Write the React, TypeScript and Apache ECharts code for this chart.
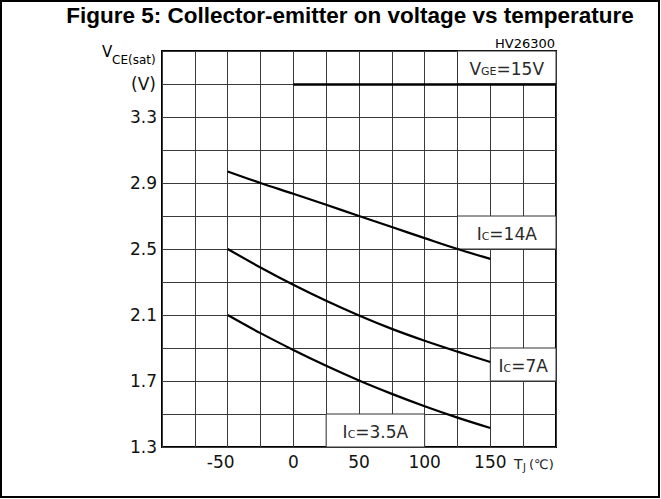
import React, { useEffect, useRef } from "react";
import * as echarts from "echarts";

// Junction temperature (°C)
const temps = [-50, -25, 0, 25, 50, 75, 100, 125, 150];
// VCE(sat) (V) for each collector current
const vce14A = [2.97, 2.9, 2.835, 2.768, 2.7, 2.633, 2.566, 2.5, 2.44];
const vce7A = [2.5, 2.388, 2.283, 2.186, 2.097, 2.016, 1.944, 1.878, 1.815];
const vce3p5A = [2.1, 1.99, 1.888, 1.792, 1.703, 1.622, 1.547, 1.478, 1.415];

const yTickLabels = ["1.3", "1.7", "2.1", "2.5", "2.9", "3.3"];
const xTickLabels = ["-50", "0", "50", "100", "150"];

const FONT = "DejaVu Sans";

const boxLabelRich = {
  a: { fontFamily: FONT, fontSize: 17, color: "#2a2a2a", verticalAlign: "bottom", lineHeight: 20 },
  s: { fontFamily: FONT, fontSize: 11, color: "#2a2a2a", verticalAlign: "bottom", lineHeight: 20, padding: [0, 0, 1, 0] },
};

export default function App() {
  const ref = useRef<HTMLDivElement>(null);
  useEffect(() => {
    document.body.style.margin = "0";
    const chart = echarts.init(ref.current!, undefined, { renderer: "svg" });
    const lineSeries = (name: string, vals: number[]) => ({
      name,
      type: "line",
      smooth: 0.35,
      symbol: "none",
      showSymbol: false,
      silent: true,
      lineStyle: { color: "#000", width: 2.2 },
      data: temps.map((t, i) => [t, vals[i]]),
    });
    const box = (x0: number, y0: number, x1: number, y1: number, fmt: string) => [
      {
        xAxis: x0,
        yAxis: y0,
        itemStyle: { color: "#fff", borderColor: "#333", borderWidth: 1 },
        label: { show: true, position: "inside", formatter: fmt, rich: boxLabelRich },
      },
      { xAxis: x1, yAxis: y1 },
    ];
    const s14 = lineSeries("Ic=14A", vce14A) as any;
    s14.markArea = {
      silent: true,
      data: [
        box(125, 3.5, 200, 3.7, "{a|V}{s|GE}{a|=15V}"),
        box(125, 2.5, 200, 2.7, "{a|I}{s|C}{a|=14A}"),
        box(150, 1.7, 200, 1.9, "{a|I}{s|C}{a|=7A}"),
        box(25, 1.3, 100, 1.5, "{a|I}{s|C}{a|=3.5A}"),
      ],
    };
    s14.markLine = {
      silent: true,
      symbol: ["none", "none"],
      label: { show: false },
      lineStyle: { color: "#000", width: 2.5, type: "solid" },
      data: [[{ coord: [0, 3.5] }, { coord: [200, 3.5] }]],
    };
    chart.setOption({
      animation: false,
      backgroundColor: "#fff",
      grid: {
        left: 162,
        top: 51,
        width: 394,
        height: 396,
        show: true,
        borderColor: "#000",
        borderWidth: 2,
        backgroundColor: "transparent",
      },
      xAxis: {
        type: "value",
        min: -100,
        max: 200,
        interval: 25,
        axisLine: { show: false },
        axisTick: { show: false },
        splitLine: { show: true, lineStyle: { color: "#3a3a3a", width: 1 } },
        axisLabel: {
          margin: 6,
          fontFamily: FONT,
          fontSize: 17,
          color: "#111",
          formatter: (v: number) => {
            const s = String(Math.round(v));
            if (!xTickLabels.includes(s)) return "";
            return v < 0 ? "{n|" + s + "}" : s;
          },
          rich: {
            n: { fontFamily: FONT, fontSize: 17, color: "#111", padding: [0, 14, 0, 0] },
          },
        },
      },
      yAxis: {
        type: "value",
        min: 1.3,
        max: 3.7,
        interval: 0.2,
        axisLine: { show: false },
        axisTick: { show: false },
        splitLine: { show: true, lineStyle: { color: "#3a3a3a", width: 1 } },
        axisLabel: {
          margin: 5,
          fontFamily: FONT,
          fontSize: 17,
          color: "#111",
          formatter: (v: number) => {
            const s = v.toFixed(1);
            return yTickLabels.includes(s) ? s : "";
          },
        },
      },
      graphic: [
        {
          type: "rect",
          shape: { x: 1, y: 1, width: 658, height: 496 },
          style: { fill: "none", stroke: "#000", lineWidth: 2 },
          silent: true,
        },
        {
          type: "text",
          x: 350,
          y: 15,
          style: {
            text: "Figure 5: Collector-emitter on voltage vs temperature",
            font: "bold 22.5px 'Liberation Sans', Arial, sans-serif",
            fill: "#000",
            align: "center",
            verticalAlign: "middle",
          },
        },
        {
          type: "text",
          x: 555,
          y: 43,
          style: {
            text: "HV26300",
            font: "13px 'DejaVu Sans'",
            fill: "#000",
            align: "right",
            verticalAlign: "middle",
          },
        },
        {
          type: "text",
          x: 102,
          y: 52,
          style: { text: "V", font: "15px 'DejaVu Sans'", fill: "#000", align: "left", verticalAlign: "middle" },
        },
        {
          type: "text",
          x: 112,
          y: 60,
          style: { text: "CE(sat)", font: "12px 'DejaVu Sans'", fill: "#000", align: "left", verticalAlign: "middle" },
        },
        {
          type: "text",
          x: 156,
          y: 84,
          style: { text: "(V)", font: "17px 'DejaVu Sans'", fill: "#111", align: "right", verticalAlign: "middle" },
        },
        {
          type: "text",
          x: 514,
          y: 464,
          style: { text: "T", font: "14px 'DejaVu Sans'", fill: "#222", align: "left", verticalAlign: "middle" },
        },
        {
          type: "text",
          x: 523,
          y: 467,
          style: { text: "J", font: "10px 'DejaVu Sans'", fill: "#222", align: "left", verticalAlign: "middle" },
        },
        {
          type: "text",
          x: 529,
          y: 464,
          style: { text: "(℃)", font: "13px 'DejaVu Sans'", fill: "#222", align: "left", verticalAlign: "middle" },
        },
      ],
      series: [s14, lineSeries("Ic=7A", vce7A), lineSeries("Ic=3.5A", vce3p5A)],
    });
    return () => chart.dispose();
  }, []);
  return <div ref={ref} style={{ width: 661, height: 499 }} />;
}
